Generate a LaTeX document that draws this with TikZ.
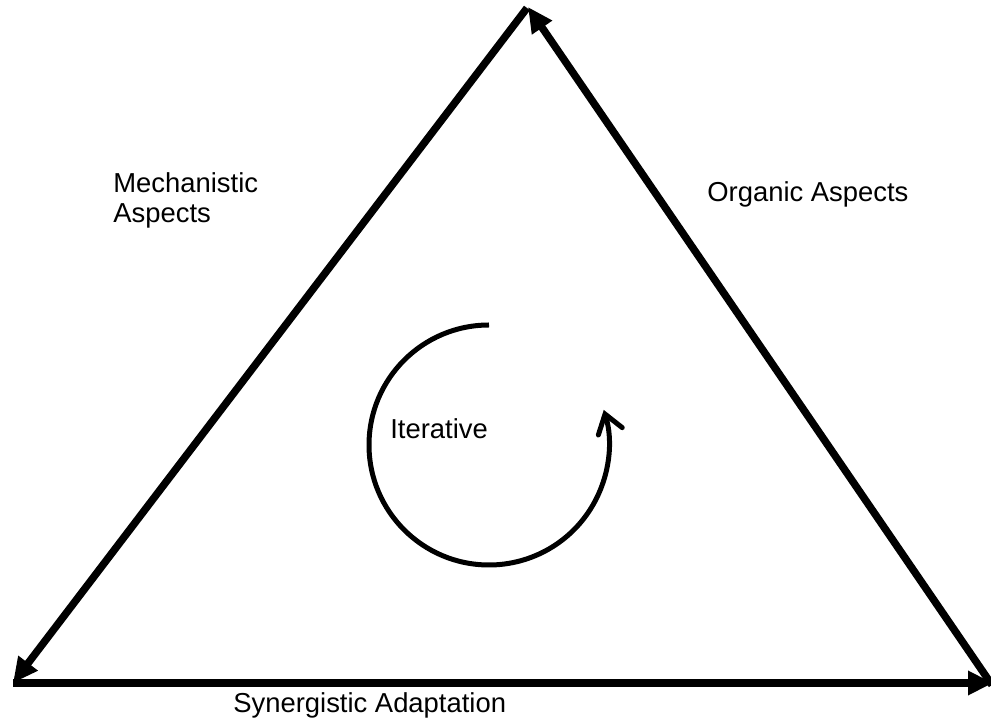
\documentclass[tikz,border=0pt]{standalone}
\usepackage{fontspec}
\setmainfont{Liberation Sans}
\usetikzlibrary{arrows.meta}

\begin{document}
\begin{tikzpicture}[x=0.02cm, y=0.02cm]
    \tikzstyle{side_style} = [-{Triangle[length=0.5cm, width=0.46cm]}, line width=0.15cm, black]
    \tikzstyle{cycle_style} = [-{Straight Barb[length=0.36cm, width=0.5cm, line cap=round]}, line width=0.1cm, black]
    \tikzstyle{label_style} = [anchor=base west, inner sep=0pt, font=\fontsize{15.6}{17.6}\selectfont, align=left]

    \def\r{120}

    \useasboundingbox (0,0) rectangle (991,727);

    \coordinate (apex) at (527,719);
    \coordinate (apexend) at (528,720);
    \coordinate (left) at (13,44);
    \coordinate (right) at (993,44);
    \coordinate (rightstart) at (992,42);

    % triangle sides
    \draw[side_style] (apex) -- (left);
    \draw[side_style] (rightstart) -- (apexend);
    \draw[side_style] (left) -- (right);

    % iteration loop
    \coordinate (loopstart) at (489,{282+\r});
    \draw[cycle_style] (loopstart) arc[start angle=90, end angle=377, radius=\r];

    \node[label_style] (mech) at (113,504) {Mechanistic\\Aspects};
    \node[label_style] (organic) at (707,525) {Organic Aspects};
    \node[label_style] (iter) at (390,288) {Iterative};
    \node[label_style] (synergy) at (233,14) {Synergistic Adaptation};
\end{tikzpicture}
\end{document}
